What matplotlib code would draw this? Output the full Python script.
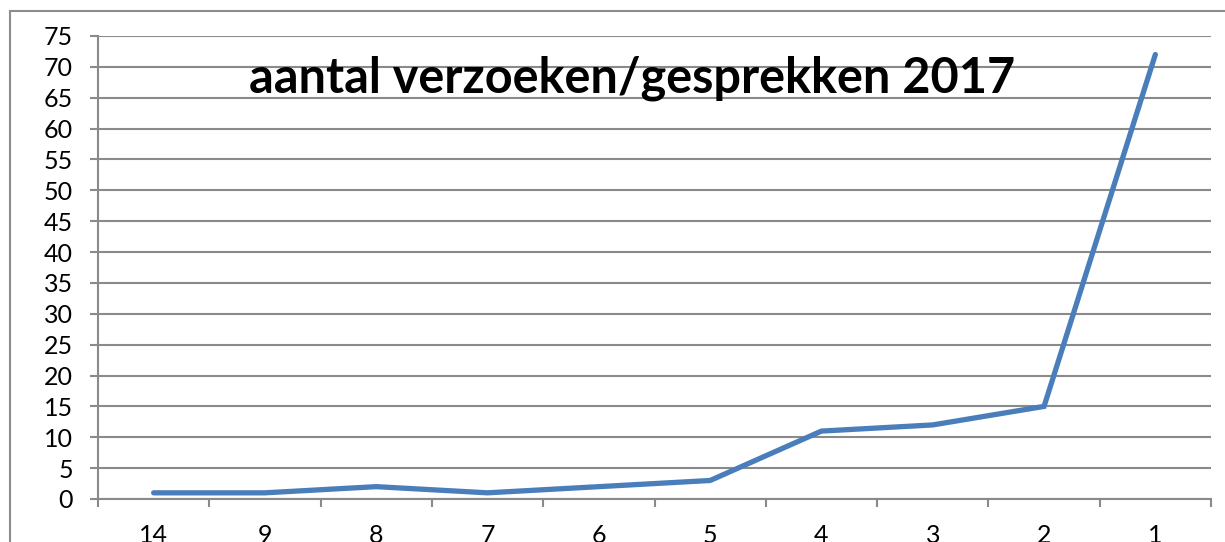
import matplotlib.pyplot as plt
from matplotlib.patches import Rectangle

categories = ["14", "9", "8", "7", "6", "5", "4", "3", "2", "1"]
values = [1, 1, 2, 1, 2, 3, 11, 12, 15, 72]
yticks = list(range(0, 80, 5))

plt.rcParams['font.family'] = ['Lato', 'DejaVu Sans']

fig = plt.figure(figsize=(12.25, 5.42), dpi=100)
# outer chart frame (cut off at right and bottom)
fig.patches.append(Rectangle((10/1225, -0.1), 1.2, 1 - 11/542 + 0.1,
	transform=fig.transFigure, fill=False, edgecolor="#8c8c8c", linewidth=1.5))

ax = fig.add_axes([98/1225, 1 - 499/542, 1113/1225, 463/542])
x = list(range(len(categories)))
ax.plot(x, values, color="#4a7ebb", linewidth=3.8, solid_capstyle="round", solid_joinstyle="miter", zorder=3)

ax.set_xlim(-0.5, len(categories) - 0.5)
ax.set_ylim(0, 75)
ax.set_yticks(yticks)
ax.grid(axis="y", color="#8a8a8a", linewidth=1.5)
ax.set_axisbelow(True)

ax.set_xticks([i - 0.5 for i in range(len(categories) + 1)])
ax.set_xticklabels([])
ax.set_xticks(x, minor=True)
ax.set_xticklabels(categories, minor=True)
ax.tick_params(axis="x", which="major", length=6, width=1.5, color="#8a8a8a", direction="out")
ax.tick_params(axis="x", which="minor", length=0, pad=18, labelsize=18)
ax.tick_params(axis="y", length=6, width=1.5, color="#8a8a8a", labelsize=18, pad=12)

for s in ["top", "right"]:
	ax.spines[s].set_visible(False)
ax.spines["left"].set_color("#8a8a8a")
ax.spines["bottom"].set_color("#8a8a8a")
ax.spines["left"].set_linewidth(1.5)
ax.spines["bottom"].set_linewidth(1.5)

fig.text(632/1225, 1 - 78/542, "aantal verzoeken/gesprekken 2017", ha="center", va="center",
	fontsize=35, fontweight="bold")

fig.savefig("out.png", dpi=100)
